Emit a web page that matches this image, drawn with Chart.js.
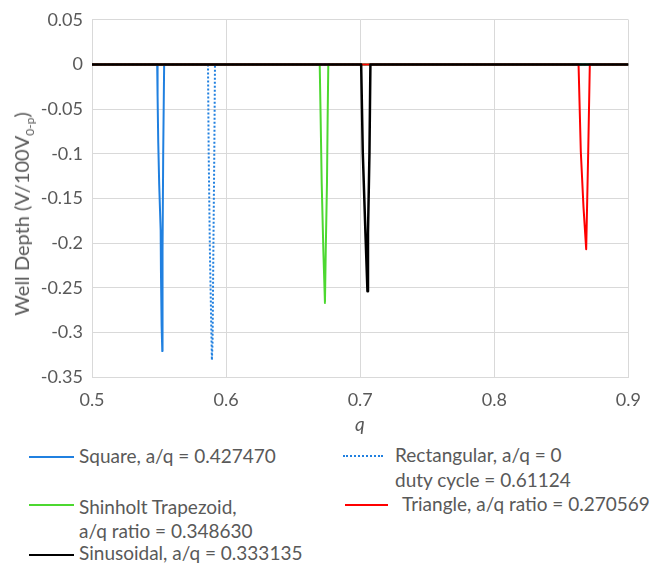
<!DOCTYPE html>
<html>
<head>
<meta charset="utf-8">
<script src="https://cdn.jsdelivr.net/npm/chart.js@4"></script>
<style>
  body { margin: 0; background: #fff; font-family: Lato, sans-serif; color: #595959; }
  #wrap { position: relative; width: 653px; height: 567px; overflow: hidden; }
  #chart { position: absolute; left: 0; top: 0; }
  .lbl { position: absolute; font-size: 19px; line-height: 24px; white-space: pre; }
  .sw { position: absolute; height: 0; }
  #ytitle { position: absolute; left: 23px; top: 214px; font-size: 20px; white-space: nowrap;
            transform: translate(-50%, -50%) rotate(-90deg); }
  #ytitle sub { font-size: 0.6em; }
  #xtitle { position: absolute; left: 355px; top: 412px; font-size: 19px; font-style: italic; }
</style>
</head>
<body>
<div id="wrap">
  <canvas id="chart" width="653" height="420"></canvas>
  <div id="ytitle">Well Depth (V/100V<sub>0-p</sub>)</div>
  <div id="xtitle">q</div>

  <div class="sw" style="left:29px;top:456px;width:45px;border-top:2px solid #2080e0"></div>
  <div class="lbl" style="left:79px;top:444px">Square, a/q = 0.427470</div>

  <div class="sw" style="left:343px;top:455px;width:40px;border-top:2px dotted #2080e0"></div>
  <div class="lbl" style="left:395px;top:443px">Rectangular, a/q = 0</div>
  <div class="lbl" style="left:395px;top:468px">duty cycle = 0.61124</div>

  <div class="sw" style="left:29px;top:504px;width:45px;border-top:2px solid #4cd830"></div>
  <div class="lbl" style="left:79px;top:495px">Shinholt Trapezoid,</div>
  <div class="lbl" style="left:79px;top:519px">a/q ratio = 0.348630</div>

  <div class="sw" style="left:345px;top:504px;width:43px;border-top:2px solid #ff0000"></div>
  <div class="lbl" style="left:402px;top:492px">Triangle, a/q ratio = 0.270569</div>

  <div class="sw" style="left:29px;top:554px;width:45px;border-top:2px solid #000000"></div>
  <div class="lbl" style="left:79px;top:541px">Sinusoidal, a/q = 0.333135</div>
</div>

<script>
"use strict"

// Tick values
const xTicks = [0.5, 0.6, 0.7, 0.8, 0.9];
const yTicks = [0.05, 0, -0.05, -0.1, -0.15, -0.2, -0.25, -0.3, -0.35];

// Square, a/q = 0.427470
const squareQ = [0.5, 0.5486, 0.5489, 0.5494, 0.5501, 0.5512, 0.5514, 0.5519, 0.5524, 0.5526, 0.5531, 0.5538, 0.9];
const squareDepth = [0, 0, -0.035, -0.087, -0.134, -0.186, -0.23, -0.292, -0.321, -0.208, -0.098, 0, 0];

// Rectangular, a/q = 0, duty cycle = 0.61124
const rectQ = [0.5, 0.5865, 0.5870, 0.5879, 0.5894, 0.5899, 0.5905, 0.5912, 0.5917, 0.9];
const rectDepth = [0, 0, -0.098, -0.208, -0.331, -0.31, -0.208, -0.098, 0, 0];

// Shinholt Trapezoid, a/q ratio = 0.348630
const trapQ = [0.5, 0.6698, 0.6705, 0.6713, 0.6725, 0.6737, 0.6743, 0.6752, 0.6757, 0.6762, 0.9];
const trapDepth = [0, 0, -0.061, -0.134, -0.208, -0.267, -0.208, -0.134, -0.061, 0, 0];

// Triangle, a/q ratio = 0.270569
const triQ = [0.5, 0.8628, 0.8645, 0.8665, 0.8685, 0.8700, 0.8712, 0.9];
const triDepth = [0, 0, -0.098, -0.16, -0.207, -0.098, 0, 0];

// Sinusoidal, a/q = 0.333135
const sinQ = [0.5, 0.7007, 0.7019, 0.7039, 0.7054, 0.7058, 0.7069, 0.7076, 0.9];
const sinDepth = [0, 0, -0.098, -0.189, -0.254, -0.189, -0.098, 0, 0];

/**
 * Bygger punktlista för ett dataset.
 */
function toPoints(qs, depths) {
    return qs.map((q, i) => ({ x: q, y: depths[i] }));
}

function lineSet(label, qs, depths, color, width, order, dash) {
    return {
        label: label,
        data: toPoints(qs, depths),
        showLine: true,
        borderColor: color,
        backgroundColor: color,
        borderWidth: width,
        borderDash: dash || [],
        borderJoinStyle: 'round',
        pointRadius: 0,
        tension: 0,
        order: order
    };
}

const tickFont = { family: 'Lato', size: 18 };

const ctx = document.getElementById('chart').getContext('2d');

new Chart(ctx, {
    type: 'scatter',
    data: {
        datasets: [
            lineSet('Square, a/q = 0.427470', squareQ, squareDepth, '#2080e0', 2, 4),
            lineSet('Rectangular, a/q = 0 duty cycle = 0.61124', rectQ, rectDepth, '#2080e0', 2, 3, [2, 2]),
            lineSet('Shinholt Trapezoid, a/q ratio = 0.348630', trapQ, trapDepth, '#4cd830', 2, 2),
            lineSet('Triangle, a/q ratio = 0.270569', triQ, triDepth, '#ff0000', 2, 1),
            lineSet('Sinusoidal, a/q = 0.333135', sinQ, sinDepth, '#000000', 2.5, 0)
        ]
    },
    options: {
        responsive: false,
        animation: false,
        layout: { padding: { top: 16, right: 22, left: 0, bottom: 0 } },
        plugins: {
            legend: { display: false },
            tooltip: { enabled: false }
        },
        scales: {
            x: {
                type: 'linear',
                min: 0.5,
                max: 0.9,
                afterBuildTicks: scale => { scale.ticks = xTicks.map(v => ({ value: v })); },
                afterFit: scale => { scale.height = 43; },
                grid: { color: '#d9d9d9', drawTicks: false },
                border: { color: '#d9d9d9' },
                ticks: {
                    padding: 12,
                    color: '#595959',
                    font: tickFont,
                    maxRotation: 0,
                    callback: v => v.toFixed(1)
                }
            },
            y: {
                min: -0.35,
                max: 0.05,
                afterBuildTicks: scale => { scale.ticks = yTicks.map(v => ({ value: v })); },
                afterFit: scale => { scale.width = 92; },
                grid: { color: '#d9d9d9', drawTicks: false },
                border: { color: '#d9d9d9' },
                ticks: {
                    padding: 9,
                    color: '#595959',
                    font: tickFont,
                    callback: v => String(+v.toFixed(2))
                }
            }
        }
    }
});
</script>
</body>
</html>
